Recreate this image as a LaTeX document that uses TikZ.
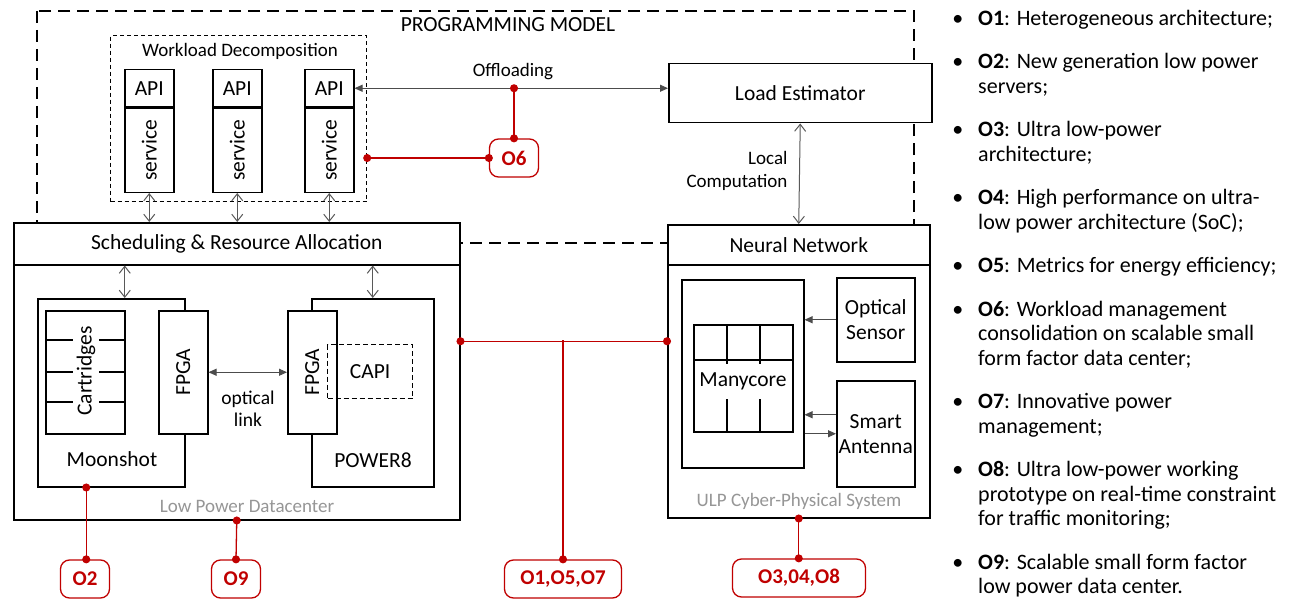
\documentclass[tikz,border=0pt]{standalone}
\usepackage{fontspec}
\setmainfont{Carlito}
\usepackage{graphicx}
\usetikzlibrary{arrows.meta,positioning}

\definecolor{objred}{RGB}{192,0,0}
\definecolor{capgray}{RGB}{150,150,150}

\tikzset{
  blk/.style={draw, line width=1.5pt, fill=white, inner sep=0pt, anchor=north west},
  small/.style={font=\fontsize{19}{22.5}\selectfont},
  caption/.style={small, text=capgray},
  dbl/.style={{Straight Barb[length=7pt,width=11pt]}-{Straight Barb[length=7pt,width=11pt]}, line width=1pt, draw=black!65},
  both/.style={{Triangle[length=8pt,width=7pt]}-{Triangle[length=8pt,width=7pt]}, line width=1pt, draw=black!70},
  one/.style={-{Triangle[length=8pt,width=7pt]}, line width=1pt, draw=black!70},
  obj/.style={draw=objred, text=objred, line width=1.3pt, fill=white, rounded corners=9pt,
    minimum height=38pt, inner sep=0pt, font=\fontsize{21}{24}\selectfont\bfseries},
  obline/.style={draw=objred, line width=1.3pt},
  dots/.style={{Circle[length=8pt]}-{Circle[length=8pt]}, shorten <=-4pt, shorten >=-4pt},
  dotend/.style={-{Circle[length=8pt]}, shorten >=-4pt}
}

\begin{document}
\begin{tikzpicture}[x=1pt, y=-1pt, font=\fontsize{21.5}{25}\selectfont]
\useasboundingbox (0,0) rectangle (1292,599);

% programming model frame
\draw[line width=2pt, dash pattern=on 12pt off 7pt] (37,11) rectangle (914,243);
\node (pm) at (508,25) {PROGRAMMING MODEL};

% low power datacenter
\node[blk, minimum width=446pt, minimum height=297pt] (lpdc) at (13,222) {};
\node[blk, minimum width=446pt, minimum height=42pt] (sched) at (13,222) {Scheduling \& Resource Allocation};
\node[caption] (lpdclbl) at (247,506) {Low Power Datacenter};

\node[blk, minimum width=147pt, minimum height=188pt] (moon) at (37,298) {};
\node (moonlbl) at (112,459) {Moonshot};
\node[blk, minimum width=79pt, minimum height=123pt] (cart) at (45,310) {};
\foreach \y in {340,372,402}
  \draw[line width=1.5pt] (cart.west |- 0,\y) -- (cart.east |- 0,\y);
\node[fill=white, inner xsep=4pt, inner ysep=0pt] (cartlbl) at (86,371) {\rotatebox{90}{Cartridges}};
\node[blk, minimum width=49pt, minimum height=123pt] (fpgaL) at (158,310) {\rotatebox{90}{FPGA}};

\node[blk, minimum width=122pt, minimum height=188pt] (pw8) at (311,298) {};
\node (pw8lbl) at (373,460) {POWER8};
\node[blk, minimum width=49pt, minimum height=123pt] (fpgaR) at (287,310) {\rotatebox{90}{FPGA}};
\node[draw, line width=1.3pt, dash pattern=on 5pt off 3pt, minimum width=85pt, minimum height=54pt,
  anchor=north west] (capi) at (327,344) {CAPI};

\draw[both] (fpgaL.east) -- (fpgaR.west);
\node[align=center, font=\fontsize{19.5}{22}\selectfont] (optlbl) at (248,409) {optical\\link};

\draw[dbl] ([xshift=13.5pt]moon.north |- sched.south) -- ([xshift=13.5pt]moon.north);
\draw[dbl] (pw8.north |- sched.south) -- (pw8.north);

% workload decomposition
\node[draw, line width=1.2pt, dash pattern=on 4pt off 3pt, minimum width=256pt, minimum height=166pt,
  anchor=north west] (wd) at (110,35) {};
\node[small] (wdlbl) at (240,51) {Workload Decomposition};
\foreach \n/\x in {1/124, 2/212, 3/304} {
  \node[blk, minimum width=49pt, minimum height=37pt] (api\n) at (\x,69) {API};
  \node[blk, minimum width=49pt, minimum height=84pt, below=0pt of api\n] (svc\n) {\rotatebox{90}{service}};
  \draw[dbl] (svc\n.south) -- (svc\n.south |- sched.north);
}

% load estimator and ULP system
\node[blk, minimum width=263pt, minimum height=59pt] (le) at (668,63) {Load Estimator};
\node[blk, minimum width=262pt, minimum height=293pt] (ulp) at (667,224) {};
\node[blk, minimum width=262pt, minimum height=40pt] (nn) at (667,224) {Neural Network};
\node[caption] (ulplbl) at (799,501) {ULP Cyber-Physical System};

\draw[dbl] (le.south) -- (nn.north);
\node[small, align=right, anchor=east] (lclbl) at (791,171) {Local\\Computation};

\draw[both] (api3.east) -- (api3.east -| le.west);
\node[small] (offlbl) at (513,72) {Offloading};

\node[blk, minimum width=122pt, minimum height=188pt] (mc) at (681,279) {};
\draw[line width=1.5pt] (694,325) rectangle (793,432);
\draw[line width=1.5pt] (694,360) -- (793,360);
\foreach \x in {727,760}
  \draw[line width=1.5pt] (\x,325) -- (\x,432);
\node[fill=white, inner sep=0pt, minimum width=92pt, minimum height=35pt] (mclbl) at (743,381) {Manycore};

\node[blk, minimum width=78pt, minimum height=84pt, align=center] (os) at (836,277) {Optical\\Sensor};
\node[blk, minimum width=78pt, minimum height=106pt, align=center] (sa) at (836,380) {Smart\\Antenna};
\draw[one] (os.west) -- (os.west -| mc.east);
\draw[one] ([yshift=19pt]sa.west) -- ([yshift=19pt]sa.west -| mc.east);
\draw[one] (sa.west -| mc.east) -- (sa.west);

% objectives
\node[obj, minimum width=49pt] (o6) at (514,158) {O6};
\node[obj, minimum width=49pt] (o2) at (85,579) {O2};
\node[obj, minimum width=49pt] (o9) at (236,579) {O9};
\node[obj, minimum width=117pt] (o157) at (563,579) {O1,O5,O7};
\node[obj, minimum width=133pt] (o348) at (799,578) {O3,04,O8};

\draw[obline, dots] (wd.east |- o6.west) -- (o6.west);
\draw[obline, dots] (o6.north |- api3.east) -- (o6.north);
\draw[obline, dots] ([yshift=30pt]lpdc.east) -- ([yshift=30pt]lpdc.east -| ulp.west);
\draw[obline, dotend] (o157.north |- 0,340) -- (o157.north);
\draw[obline, dots] ([xshift=-25pt]moon.south) -- ([xshift=-25pt]moon.south |- o2.north);
\draw[obline, dots] (lpdc.south) -- (o9.north);
\draw[obline, dots] (ulp.south) -- (ulp.south |- o348.north);

% list of objectives
\node[anchor=north west, align=left, inner sep=0pt, font=\fontsize{22}{24.5}\selectfont] (goals) at (978,10) {%
  \llap{\textbullet\hspace{15pt}}\textbf{O1}: Heterogeneous architecture;\\[19pt]
  \llap{\textbullet\hspace{15pt}}\textbf{O2}: New generation low power\\servers;\\[19pt]
  \llap{\textbullet\hspace{15pt}}\textbf{O3}: Ultra low-power\\architecture;\\[19pt]
  \llap{\textbullet\hspace{15pt}}\textbf{O4}: High performance on ultra-\\low power architecture (SoC);\\[19pt]
  \llap{\textbullet\hspace{15pt}}\textbf{O5}: Metrics for energy efficiency;\\[19pt]
  \llap{\textbullet\hspace{15pt}}\textbf{O6}: Workload management\\consolidation on scalable small\\form factor data center;\\[19pt]
  \llap{\textbullet\hspace{15pt}}\textbf{O7}: Innovative power\\management;\\[19pt]
  \llap{\textbullet\hspace{15pt}}\textbf{O8}: Ultra low-power working\\prototype on real-time constraint\\for traffic monitoring;\\[19pt]
  \llap{\textbullet\hspace{15pt}}\textbf{O9}: Scalable small form factor\\low power data center.};
\end{tikzpicture}
\end{document}
